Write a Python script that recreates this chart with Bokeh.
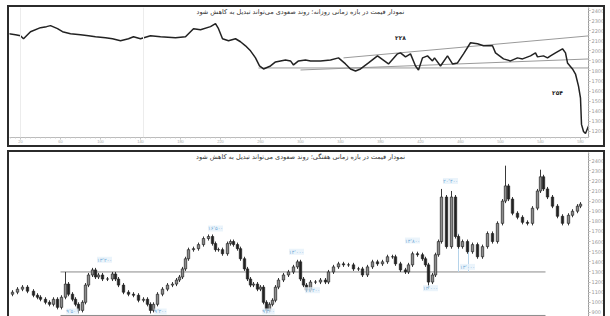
from bokeh.plotting import figure
from bokeh.models import Range1d, Label, Span, FixedTicker, ColumnDataSource
from bokeh.layouts import column
from bokeh.embed import file_html
from bokeh.resources import INLINE

FONT = "DejaVu Sans"

# ---------------- titles ----------------
top_title = "نمودار قیمت در بازه زمانی روزانه؛ روند صعودی می‌تواند تبدیل به کاهش شود"
bot_title = "نمودار قیمت در بازه زمانی هفتگی؛ روند صعودی می‌تواند تبدیل به کاهش شود"

# ---------------- top panel (daily line) ----------------
top_day = [8, 15, 20, 23, 30, 40, 46, 50, 57, 62, 70, 80, 88, 95, 105, 112, 120, 128, 133, 140,
           150, 160, 175, 185, 193, 200, 210, 215, 218, 222, 228, 235, 240, 245, 250, 255, 259, 263, 270, 275,
           285, 290, 293, 298, 305, 310, 320, 330, 338, 345, 350, 355, 360, 368, 377, 388, 397, 400, 405, 410,
           415, 418, 422, 427, 432, 434, 440, 447, 452, 457, 463, 470, 477, 483, 492, 495, 503, 510, 517, 522,
           530, 535, 537, 543, 547, 550, 555, 562, 565, 567, 572, 575, 578, 580, 581, 583, 585, 587, 590]
top_price = [2170, 2160, 2150, 2120, 2190, 2230, 2240, 2250, 2220, 2190, 2170, 2160, 2150, 2140, 2130, 2120, 2100, 2120, 2140, 2120,
             2150, 2140, 2130, 2140, 2220, 2210, 2240, 2270, 2220, 2120, 2100, 2120, 2090, 2050, 2000, 1930, 1850, 1820, 1850, 1890,
             1910, 1900, 1860, 1900, 1910, 1900, 1900, 1910, 1930, 1870, 1820, 1800, 1820, 1880, 1950, 1870, 1970, 1980, 1940, 1970,
             1850, 1810, 1930, 1950, 1900, 1930, 1850, 1950, 1870, 1880, 1970, 2080, 2070, 2050, 2050, 1980, 1920, 1900, 1930, 1920,
             1950, 1980, 1940, 1950, 1930, 1950, 1980, 2020, 1980, 1880, 1820, 1770, 1650, 1530, 1270, 1200, 1180, 1230, 1300]

# trend lines (day, price)
top_upper_x = [343, 590]
top_upper_y = [1930, 2150]
top_rise_x = [300, 590]
top_rise_y = [1810, 1920]
top_flat_x = [258, 590]
top_flat_y = [1830, 1830]

top_notes = ["۲۲۸", "۲۵۴"]
top_notes_x = [400, 557]
top_notes_y = [2100, 1550]
top_separators = [20, 143]

# ---------------- bottom panel (weekly candles) ----------------
bot_day = [12, 17, 22, 27, 33, 37, 40, 45, 49, 53,
           57, 61, 65, 68, 72, 75, 78, 82, 85, 88,
           92, 95, 98, 102, 107, 112, 115, 118, 123, 128,
           133, 138, 143, 147, 150, 153, 157, 162, 167, 172,
           176, 179, 182, 185, 188, 193, 198, 203, 208, 212,
           215, 218, 222, 227, 230, 233, 237, 240, 244, 247,
           250, 253, 257, 260, 263, 266, 269, 272, 275, 278,
           283, 288, 293, 297, 300, 303, 306, 310, 315, 320,
           325, 328, 333, 338, 343, 348, 353, 358, 362, 367,
           372, 377, 382, 387, 392, 395, 400, 405, 408, 412,
           417, 422, 425, 428, 432, 435, 438, 441, 446, 451,
           455, 458, 462, 467, 472, 477, 482, 487, 492, 497,
           502, 505, 508, 512, 517, 522, 527, 532, 537, 540,
           543, 547, 552, 557, 562, 568, 572, 577, 580]
bot_close = [1100, 1130, 1150, 1110, 1070, 1050, 1030, 1000, 980, 1030,
             950, 1050, 1180, 1080, 1030, 980, 920, 1000, 1170, 1270,
             1320, 1250, 1270, 1230, 1230, 1280, 1230, 1170, 1100, 1080,
             1070, 1020, 1030, 980, 920, 980, 1080, 1130, 1170, 1180,
             1220, 1250, 1330, 1430, 1520, 1530, 1570, 1630, 1650, 1580,
             1520, 1520, 1480, 1580, 1600, 1570, 1530, 1430, 1330, 1230,
             1170, 1180, 1130, 1150, 1000, 920, 980, 1020, 1150, 1220,
             1270, 1300, 1350, 1400, 1230, 1170, 1120, 1200, 1200, 1220,
             1200, 1300, 1350, 1380, 1370, 1370, 1330, 1330, 1270, 1350,
             1400, 1380, 1400, 1450, 1450, 1380, 1320, 1300, 1370, 1480,
             1470, 1430, 1370, 1200, 1270, 1470, 1600, 2040, 1550, 2040,
             1650, 1550, 1600, 1500, 1570, 1450, 1550, 1680, 1600, 1780,
             2000, 2150, 2020, 1880, 1840, 1790, 1780, 1930, 2100, 2240,
             2120, 2040, 1950, 1850, 1780, 1860, 1900, 1950, 1970]
bot_first_open = 1080
wick_up = [20, 20, 20, 20, 20, 20, 20, 20, 20, 20,
           20, 20, 120, 20, 20, 20, 20, 20, 20, 20,
           20, 20, 20, 20, 20, 20, 20, 20, 20, 20,
           20, 20, 20, 20, 20, 20, 20, 20, 20, 20,
           20, 20, 20, 20, 20, 20, 20, 20, 20, 20,
           20, 20, 20, 20, 20, 20, 20, 20, 20, 20,
           20, 20, 20, 20, 20, 20, 20, 20, 20, 20,
           20, 20, 20, 20, 20, 20, 20, 20, 20, 20,
           20, 20, 20, 20, 20, 20, 20, 20, 20, 20,
           20, 20, 20, 20, 20, 20, 20, 20, 20, 20,
           20, 20, 20, 20, 20, 20, 20, 80, 20, 60,
           20, 20, 20, 20, 20, 20, 20, 20, 20, 20,
           20, 200, 20, 20, 20, 20, 20, 20, 20, 70,
           20, 20, 20, 20, 20, 20, 20, 20, 20]
wick_dn = [20, 20, 20, 20, 20, 20, 20, 20, 20, 20,
           20, 20, 20, 20, 20, 20, 30, 20, 20, 20,
           20, 20, 20, 20, 20, 20, 20, 20, 20, 20,
           20, 20, 20, 20, 30, 20, 20, 20, 20, 20,
           20, 20, 20, 20, 20, 20, 20, 20, 20, 20,
           20, 20, 20, 20, 20, 20, 20, 20, 20, 20,
           20, 20, 20, 20, 20, 30, 20, 20, 20, 20,
           20, 20, 20, 20, 20, 20, 20, 20, 20, 20,
           20, 20, 20, 20, 20, 20, 20, 20, 20, 20,
           20, 20, 20, 20, 20, 20, 20, 20, 20, 20,
           20, 20, 20, 70, 20, 20, 20, 20, 20, 20,
           20, 20, 20, 20, 20, 20, 20, 20, 20, 20,
           20, 20, 20, 20, 20, 20, 20, 20, 20, 20,
           20, 20, 20, 20, 20, 20, 20, 20, 20]

bot_levels_y = [1300, 870]
bot_levels_x = [60, 545]

bot_tags_x = [104, 215, 296, 312, 412, 430, 450, 467, 72, 160, 268]
bot_tags_y = [1390, 1700, 1470, 1090, 1580, 1110, 2170, 1320, 880, 880, 880]
bot_tags = ["۱۳٬۲۰۰", "۱۶٬۵۰۰", "۱۴٬۰۰۰", "۱۱٬۲۰۰", "۱۴٬۸۰۰", "۱۲٬۰۰۰", "۲۰٬۴۰۰", "۱۳٬۰۰۰",
            "۹٬۵۰۰", "۹٬۲۰۰", "۹٬۲۰۰"]
bot_pointer_x = [458, 468]
bot_pointer_top = [1680, 1600]
bot_pointer_bot = [1300, 1300]

# ---------------- build candles ----------------
bot_open = [bot_first_open] + bot_close[:-1]
bot_high = [max(o, c) + w for o, c, w in zip(bot_open, bot_close, wick_up)]
bot_low = [min(o, c) - w for o, c, w in zip(bot_open, bot_close, wick_dn)]
up = [c >= o for o, c in zip(bot_open, bot_close)]
src = ColumnDataSource(dict(
    x=bot_day, top=[max(o, c) for o, c in zip(bot_open, bot_close)],
    bottom=[min(o, c) for o, c in zip(bot_open, bot_close)],
    high=bot_high, low=bot_low,
    fill=["#8c8c8c" if u else "#222222" for u in up],
))

INK = "#222222"
BORDER = "2px solid #2b2b2b"
TOP_Y = (1140, 2430)
BOT_Y = (840, 2480)
X_RANGE = (9, 588)


def style(p, title, yr):
    p.min_border_left = 0
    p.min_border_right = 0
    p.min_border_top = 0
    p.min_border_bottom = 0
    p.grid.visible = False
    p.outline_line_color = None
    p.background_fill_color = "#ffffff"
    p.border_fill_color = "#ffffff"
    for ax in p.yaxis:
        ax.major_label_text_font_size = "5px"
        ax.major_label_text_color = "#999999"
        ax.major_label_text_font = FONT
        ax.axis_line_color = "#9a9a9a"
        ax.major_tick_line_color = "#aaaaaa"
        ax.minor_tick_line_color = "#cccccc"
        ax.major_tick_in = 0
        ax.major_tick_out = 2
        ax.minor_tick_in = 0
        ax.minor_tick_out = 1
        ax.major_label_standoff = 1
    p.add_layout(Label(x=300, y=yr[1], text=title, text_font=FONT, text_font_size="6.5px",
                       text_align="center", text_baseline="top", y_offset=0,
                       text_color="#333333"))


# ---------------- top figure ----------------
p1 = figure(width=598, height=142, output_backend="svg", toolbar_location=None,
            x_range=Range1d(*X_RANGE), y_range=Range1d(*TOP_Y),
            y_axis_location="right")
style(p1, top_title, TOP_Y)
p1.yaxis.ticker = FixedTicker(ticks=list(range(1200, 2500, 100)),
                              minor_ticks=list(range(1150, 2450, 25)))
p1.xaxis.major_label_text_font_size = "4px"
p1.xaxis.major_label_text_color = "#aaaaaa"
p1.xaxis.axis_line_color = "#bbbbbb"
p1.xaxis.major_tick_line_color = "#bbbbbb"
p1.xaxis.minor_tick_line_color = "#cccccc"
p1.xaxis.major_tick_in = 0
p1.xaxis.major_tick_out = 2
p1.xaxis.minor_tick_out = 1
p1.xaxis.major_label_standoff = 0
p1.xaxis.ticker = FixedTicker(ticks=list(range(20, 590, 40)), minor_ticks=list(range(10, 590, 5)))
p1.min_border_bottom = 12

for s in top_separators:
    p1.add_layout(Span(location=s, dimension="height", line_color="#ececec", line_width=1))

p1.line(top_upper_x, top_upper_y, line_color="#9a9a9a", line_width=1)
p1.line(top_rise_x, top_rise_y, line_color="#9a9a9a", line_width=1)
p1.line(top_flat_x, top_flat_y, line_color="#9a9a9a", line_width=1)
p1.line(top_day, top_price, line_color=INK, line_width=1.5)

for t, x, y in zip(top_notes, top_notes_x, top_notes_y):
    p1.add_layout(Label(x=x, y=y, text=t, text_font=FONT, text_font_size="6px",
                        text_font_style="bold", text_align="center", text_color="#222222"))

p1.styles = {"border": BORDER}

# ---------------- bottom figure ----------------
p2 = figure(width=598, height=166, output_backend="svg", toolbar_location=None,
            x_range=Range1d(*X_RANGE), y_range=Range1d(*BOT_Y),
            y_axis_location="right", x_axis_location=None)
style(p2, bot_title, BOT_Y)
p2.yaxis.ticker = FixedTicker(ticks=list(range(900, 2500, 100)),
                              minor_ticks=list(range(850, 2500, 25)))

for yv in bot_levels_y:
    p2.line(bot_levels_x, [yv, yv], line_color="#8a8a8a", line_width=1)
p2.segment(x0=bot_pointer_x, y0=bot_pointer_top, x1=bot_pointer_x, y1=bot_pointer_bot,
           line_color="#b5d3ea", line_width=1)

p2.segment(x0="x", y0="high", x1="x", y1="low", source=src, line_color=INK, line_width=0.9)
p2.vbar(x="x", top="top", bottom="bottom", width=2.4, source=src,
        fill_color="fill", line_color=INK, line_width=0.7)

for t, x, y in zip(bot_tags, bot_tags_x, bot_tags_y):
    p2.add_layout(Label(x=x, y=y, text=t, text_font=FONT, text_font_size="5px",
                        text_align="center", text_color="#6fa8d6",
                        background_fill_color="#e6f1fa", background_fill_alpha=0.8))

p2.styles = {"border-left": BORDER, "border-right": BORDER, "border-top": BORDER}

layout = column(p1, p2, spacing=3, margin=(5, 0, 0, 7))
open("out.html", "w").write(file_html(layout, INLINE))
